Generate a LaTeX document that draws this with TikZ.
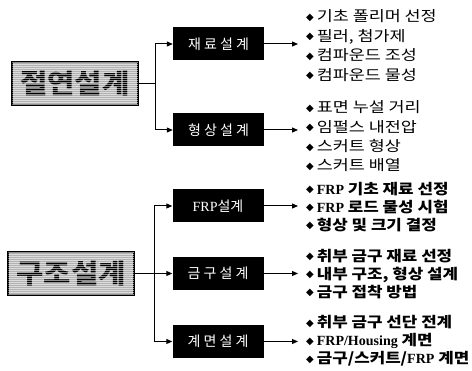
\documentclass[tikz,border=0pt]{standalone}
\usepackage{fontspec}
\setmainfont{Liberation Serif}
\newfontfamily\kr{Noto Sans CJK KR}
\newfontfamily\krw[FakeStretch=1.2]{Noto Sans CJK KR}
\newfontfamily\krb[FakeStretch=1.16]{Noto Sans CJK KR}
\newfontfamily\krm[FakeStretch=1.1]{Noto Sans CJK KR}
\newfontfamily\krs[LetterSpace=22]{Noto Sans CJK KR}
\newfontfamily\sym{DejaVu Sans}
\usetikzlibrary{arrows.meta,calc}
\newcommand{\bu}{\raisebox{1.5pt}{\sym\fontsize{10}{10}\selectfont ◆}\hspace{3pt}}
\newcommand{\frp}{{\rmfamily\bfseries\fontsize{14}{14}\selectfont FRP}}
\begin{document}
\begin{tikzpicture}[x=1pt,y=-1pt,
  mainbox/.style={draw=black, line width=1.5pt, fill=gray!60, minimum width=126pt, minimum height=43pt, inner sep=0pt, font=\krm\bfseries\fontsize{27}{27}\selectfont},
  subbox/.style={fill=black, text=white, minimum width=91pt, minimum height=33pt, inner sep=0pt, font=\krs\fontsize{14}{14}\selectfont},
  lst/.style={anchor=west, align=left, inner sep=0pt},
  arr/.style={-{Triangle[length=6pt,width=5pt]}, line width=1pt},
  stripe/.style={white, opacity=.55, line width=.5pt}]
\useasboundingbox (0,0) rectangle (472,371);

% main boxes
\node[mainbox] (n1) at (75,83.5) {절연설계};
\node[mainbox] (n2) at (71,273.5) {구조설계};
\foreach \n in {n1,n2}{
  \begin{scope}
    \clip ($(\n.north west)+(1,1)$) rectangle ($(\n.south east)+(-1,-1)$);
    \foreach \i in {0,...,21}
      \draw[stripe] ($(\n.north west)+(0,\i*2+1)$) -- ++(130,0);
  \end{scope}
}

% sub boxes
\node[subbox] (m1) at (218.5,44) {재료설계};
\node[subbox] (m2) at (218.5,130) {형상설계};
\node[subbox, font=\kr\fontsize{14}{14}\selectfont] (m3) at (218,206) {{\rmfamily FRP}설계};
\node[subbox] (m4) at (218,273.5) {금구설계};
\node[subbox] (m5) at (218,341.5) {계면설계};

% lists
\node[lst, font=\krw\fontsize{14.5}{19.6}\selectfont] (l1) at (306,45.5) {\bu 기초 폴리머 선정\\ \bu 필러, 첨가제\\ \bu 컴파운드 조성\\ \bu 컴파운드 물성};
\node[lst, font=\krw\fontsize{14.5}{19.3}\selectfont] (l2) at (306,136.5) {\bu 표면 누설 거리\\ \bu 임펄스 내전압\\ \bu 스커트 형상\\ \bu 스커트 배열};
\node[lst, font=\krb\bfseries\fontsize{14.5}{18}\selectfont] (l3) at (306,207) {\bu \frp{} 기초 재료 선정\\ \bu \frp{} 로드 물성 시험\\ \bu 형상 및 크기 결정};
\node[lst, font=\krb\bfseries\fontsize{14.5}{18}\selectfont] (l4) at (306,274) {\bu 취부 금구 재료 선정\\ \bu 내부 구조, 형상 설계\\ \bu 금구 접착 방법};
\node[lst, font=\krb\bfseries\fontsize{14.5}{18}\selectfont] (l5) at (306,341) {\bu 취부 금구 선단 전계\\ \bu {\rmfamily\bfseries\fontsize{14}{14}\selectfont FRP/Housing} 계면\\ \bu 금구/스커트/\frp{} 계면};

% connectors
\coordinate (t1) at (155,83.5);
\coordinate (t2) at (154,273.5);
\draw[line width=1pt] (n1.east) -- (t1);
\draw[arr] (t1) |- (m1.west);
\draw[arr] (t1) |- (m2.west);
\draw[arr] (n2.east) -- (m4.west);
\draw[arr] (t2) |- (m3.west);
\draw[arr] (t2) |- (m5.west);

\foreach \m/\l in {m1/l1,m2/l2,m3/l3,m4/l4,m5/l5}
  \draw[arr, shorten >=8pt] (\m.east) -- (\m.east -| \l.west);
\end{tikzpicture}
\end{document}
